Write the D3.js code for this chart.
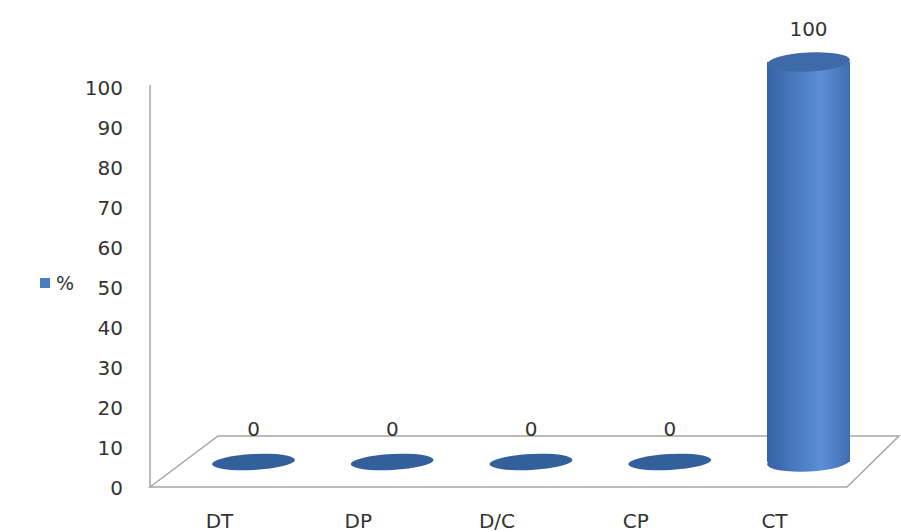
<!DOCTYPE html>
<html>
<head>
<meta charset="utf-8">
<script src="https://cdn.jsdelivr.net/npm/d3@7/dist/d3.min.js"></script>
<style>
  html, body { margin: 0; padding: 0; background: #fff; }
  svg { display: block; }
  text { font-family: "DejaVu Sans", sans-serif; fill: #333333; }
</style>
</head>
<body>
<svg id="chart" width="901" height="532"></svg>
<script>
// Chart data
const categories = ["DT", "DP", "D/C", "CP", "CT"];
const values = [0, 0, 0, 0, 100];
const yTicks = [0, 10, 20, 30, 40, 50, 60, 70, 80, 90, 100];
const seriesName = "%";

const svg = d3.select("#chart");

// Geometry of the 3D box
const axisX = 150;          // front-left corner of the floor
const floorFront = 487;     // y of the floor front edge
const depthDx = 68, depthDy = 51; // offset from front to back edge
const floorRight = 847;     // x of the floor front-right corner

// Value axis (ticks on the front-left edge)
const y = d3.scaleLinear().domain([0, 100]).range([487, 87]);
// Cylinders sit in the middle of the floor depth
const cylOffset = 25;
const yc = v => y(v) - cylOffset;

const x = d3.scalePoint().domain(categories).range([253.5, 808.5]);
const rx = 41.5, ry = 9.5, tilt = -3;

// Gradients
const defs = svg.append("defs");
const g1 = defs.append("linearGradient").attr("id", "cylSide")
  .attr("x1", "0%").attr("x2", "100%").attr("y1", "0%").attr("y2", "0%");
g1.append("stop").attr("offset", "0%").attr("stop-color", "#3562a3");
g1.append("stop").attr("offset", "30%").attr("stop-color", "#4777bd");
g1.append("stop").attr("offset", "65%").attr("stop-color", "#5b8fd6");
g1.append("stop").attr("offset", "100%").attr("stop-color", "#3f6db0");

// Floor
svg.append("path")
  .attr("d", `M${axisX},${floorFront} L${axisX + depthDx},${floorFront - depthDy} L${floorRight + 52},${floorFront - depthDy} L${floorRight},${floorFront} Z`)
  .attr("fill", "#ffffff")
  .attr("stroke", "#a6a6a6")
  .attr("stroke-width", 1.5);

// Vertical axis line
svg.append("line")
  .attr("x1", axisX).attr("x2", axisX)
  .attr("y1", 85).attr("y2", floorFront)
  .attr("stroke", "#a6a6a6").attr("stroke-width", 1.5);

// Tick labels
const yAxis = d3.axisLeft(y).tickValues(yTicks).tickSize(0).tickPadding(0);
const axG = svg.append("g").attr("transform", `translate(${axisX - 27},0)`).call(yAxis);
axG.select(".domain").remove();
axG.selectAll("text")
  .style("font-family", '"DejaVu Sans", sans-serif')
  .style("font-size", "20px")
  .attr("fill", "#333333")
  .attr("dy", "0.36em");

// Bars
const bars = svg.append("g");
categories.forEach((c, i) => {
  const cx = x(c), v = values[i];
  const top = yc(v), base = yc(0);
  const g = bars.append("g");
  if (v > 0) {
    g.append("ellipse")
      .attr("cx", cx).attr("cy", base).attr("rx", rx).attr("ry", ry)
      .attr("transform", `rotate(${tilt},${cx},${base})`)
      .attr("fill", "url(#cylSide)");
    g.append("rect")
      .attr("x", cx - rx).attr("y", top)
      .attr("width", rx * 2).attr("height", base - top)
      .attr("fill", "url(#cylSide)");
    g.append("ellipse")
      .attr("cx", cx).attr("cy", top).attr("rx", rx).attr("ry", ry)
      .attr("transform", `rotate(${tilt},${cx},${top})`)
      .attr("fill", "#3f6aaa");
  } else {
    g.append("ellipse")
      .attr("cx", cx).attr("cy", base).attr("rx", rx).attr("ry", 8)
      .attr("transform", `rotate(${tilt},${cx},${base})`)
      .attr("fill", "#335f9b");
  }
  // value label
  svg.append("text")
    .attr("x", cx).attr("y", top - 26)
    .attr("text-anchor", "middle")
    .style("font-size", "20px")
    .text(v);
  // category label
  svg.append("text")
    .attr("x", cx - 34).attr("y", 528)
    .attr("text-anchor", "middle")
    .style("font-size", "20px")
    .text(c);
});

// Legend
const leg = svg.append("g");
leg.append("rect").attr("x", 40).attr("y", 278).attr("width", 10).attr("height", 10)
  .attr("fill", "#4a7cc0");
leg.append("text").attr("x", 56).attr("y", 290)
  .style("font-size", "19px").text(seriesName);
</script>
</body>
</html>
